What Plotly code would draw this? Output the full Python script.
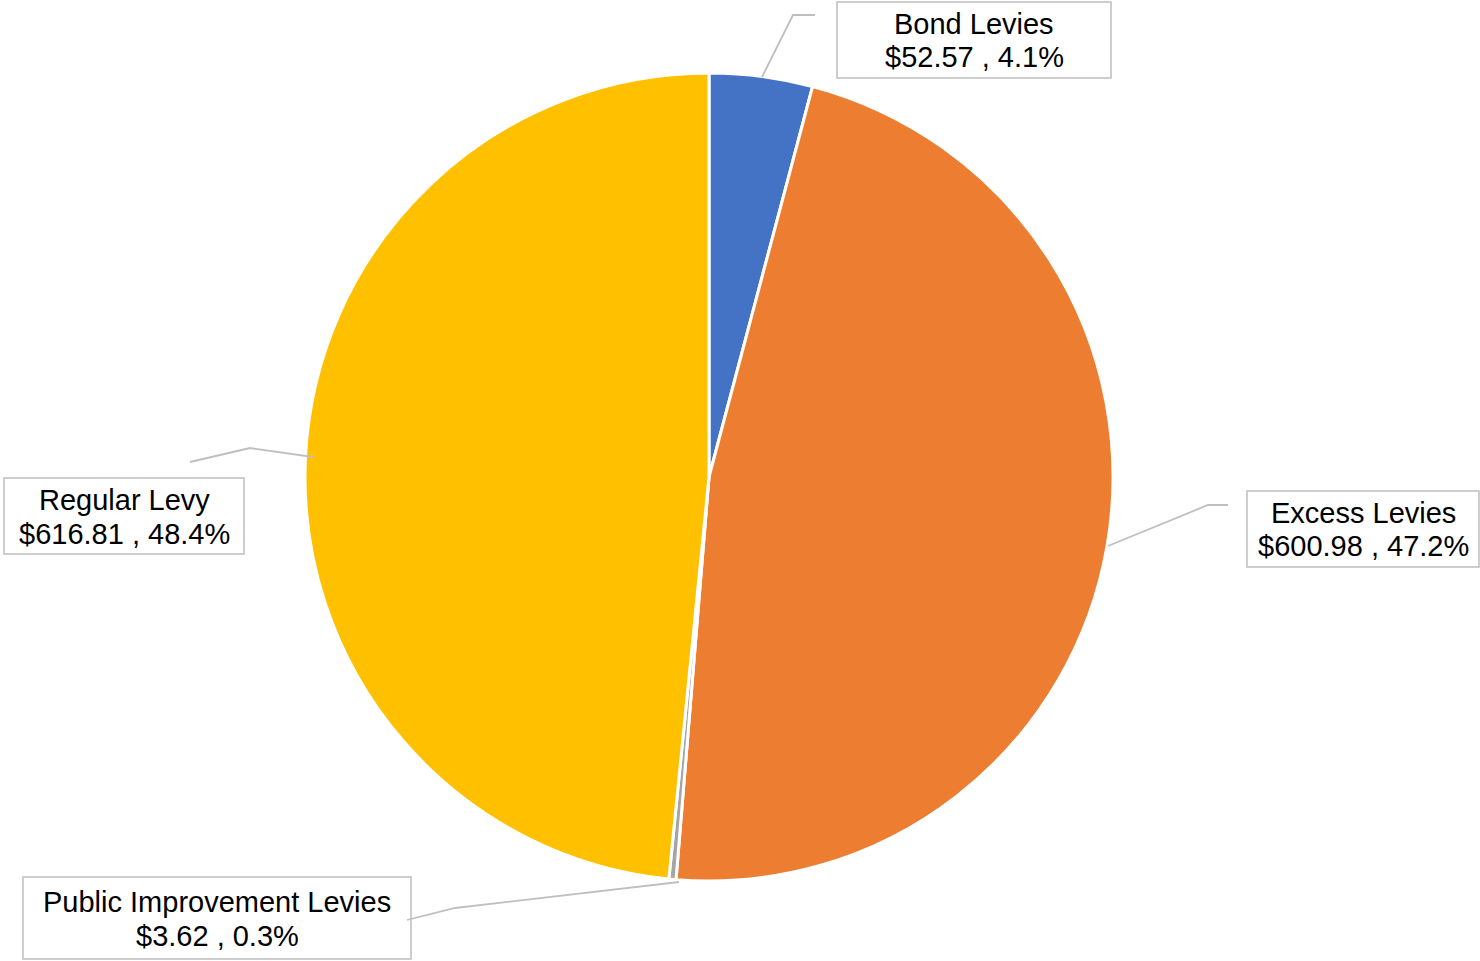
import plotly.graph_objects as go

categories = ["Bond Levies", "Excess Levies", "Public Improvement Levies", "Regular Levy"]
values = [52.57, 600.98, 3.62, 616.81]
colors = ["#4472C4", "#ED7D31", "#A5A5A5", "#FFC000"]

W, H = 1480, 961
total = sum(values)

def px(x):
    return x / W

def py(y):
    return 1 - y / H

fig = go.Figure(go.Pie(
    labels=categories, values=values, sort=False, direction="clockwise", rotation=0,
    marker=dict(colors=colors, line=dict(color="white", width=3)),
    textinfo="none", hoverinfo="label+value+percent", showlegend=False,
    domain=dict(x=[px(305), px(1113)], y=[py(881), py(73)]),
))

# label layout: box (x0,y0,x1,y1), text center x, line1 y, line2 y, leader polyline
layout_info = [
    dict(box=(837, 2, 1111, 78), cx=974, ly=(24, 57), lead=[(762, 77), (793, 15), (815, 15)]),
    dict(box=(1247, 491, 1479, 567), cx=1363, ly=(513, 546), lead=[(1108, 546), (1208, 505), (1228, 505)]),
    dict(box=(23, 877, 411, 959), cx=217, ly=(902, 936), lead=[(679, 882), (455, 908), (407, 920)]),
    dict(box=(4, 478, 244, 554), cx=124, ly=(500, 534), lead=[(313, 457), (250, 448), (190, 462)]),
]

font = dict(family="Liberation Sans, Arial, sans-serif", size=29, color="black")
shapes = []
annotations = []
for cat, val, info in zip(categories, values, layout_info):
    x0, y0, x1, y1 = info["box"]
    shapes.append(dict(type="rect", xref="paper", yref="paper",
                       x0=px(x0), x1=px(x1), y0=py(y1), y1=py(y0),
                       line=dict(color="#BFBFBF", width=1.5), fillcolor="white", layer="above"))
    pts = info["lead"]
    path = "M " + " L ".join(f"{px(a)},{py(b)}" for a, b in pts)
    shapes.append(dict(type="path", xref="paper", yref="paper", path=path,
                       line=dict(color="#BFBFBF", width=1.8)))
    pct = val / total * 100
    lines = [cat, f"${val:.2f} , {pct:.1f}%"]
    for t, yy in zip(lines, info["ly"]):
        annotations.append(dict(text=t, x=px(info["cx"]), y=py(yy), xref="paper", yref="paper",
                                showarrow=False, xanchor="center", yanchor="middle", font=font))

fig.update_layout(
    width=W, height=H, margin=dict(l=0, r=0, t=0, b=0),
    paper_bgcolor="white", plot_bgcolor="white",
    shapes=shapes, annotations=annotations,
)

fig.write_html("out.html", config={"displayModeBar": False},
               post_script="document.body.style.margin='0';")
